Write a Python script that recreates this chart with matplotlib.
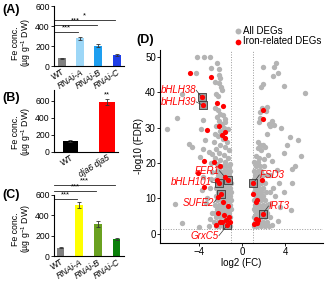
import matplotlib
matplotlib.use("Agg")
import matplotlib.pyplot as plt

plt.rcParams['font.family'] = ['Liberation Sans', 'DejaVu Sans']
plt.rcParams['mathtext.fontset'] = 'custom'
plt.rcParams['mathtext.rm'] = 'Liberation Sans'
plt.rcParams['mathtext.it'] = 'Liberation Sans:italic'
plt.rcParams['axes.linewidth'] = 0.8

# ---------------- data ----------------
a_labels = ['WT', 'RNAi-A', 'RNAi-B', 'RNAi-C']
a_values = [80, 280, 205, 110]
a_err = [5, 15, 15, 8]
a_colors = ['#808080', '#9dd7f7', '#1e9ff0', '#1f3fe8']
a_sig = [(1, 340, '***'), (2, 410, '***'), (3, 460, '*')]

b_labels = ['WT', 'dja6 dja5']
b_values = [125, 580]
b_err = [8, 35]
b_colors = ['#000000', '#ff0000']

c_labels = ['WT', 'RNAi-A', 'RNAi-B', 'RNAi-C']
c_values = [80, 500, 315, 165]
c_err = [5, 30, 25, 8]
c_colors = ['#808080', '#ffff00', '#6aa120', '#0a800a']
c_sig = [(1, 557, '***'), (2, 642, '***'), (3, 698, '***')]

gray_x = [-4.15, -3.56, -2.98, -2.32, -2.85, -2.15, -4.24, -2.1, -2.0, -2.5, -2.1, -1.95, -1.9, -2.4, -2.25,
          -5.55, -2.55, -2.2, -2.05, -1.8, -2.3, -1.6, -2.1, -3.63, -6.05, -1.9, -2.4, -1.55, -1.7, -3.78,
          -6.98, -2.0, -2.5, -1.3, -2.2, -1.8, -3.44, -4.93, -4.68, -2.6, -1.4, -2.0, -1.6, -3.6, -2.4,
          -1.2, -3.07, -2.8, -2.1, -1.7, -3.85, -2.5, -1.3, -2.0, -1.6, -2.9, -2.3, -1.15, -2.82, -3.6,
          -3.75, -3.35, -2.82, -6.2, -5.58, -4.0, -3.1, -3.0, -3.2, -2.9, -3.0,
          -2.45, -2.1, -1.75, -1.45, -1.1,
          -2.6, -2.25, -1.9, -1.6, -1.25,
          -2.4, -2.05, -1.7, -1.4, -1.08,
          -2.55, -2.2, -1.85, -1.55, -1.2,
          -2.35, -2.0, -1.65, -1.35, -1.05,
          -2.5, -2.15, -1.8, -1.5, -1.15,
          -2.3, -1.95, -1.6, -1.3, -1.05,
          -2.45, -2.05, -1.75, -1.45, -1.15,
          -2.25, -1.9, -1.6, -1.3, -1.05,
          -2.4, -2.05, -1.7, -1.4, -1.12,
          -2.3, -1.95, -1.6, -1.3, -1.05,
          -2.45, -2.1, -1.75, -1.45, -1.15,
          -2.2, -1.85, -1.55, -1.25,
          -2.35, -2.0, -1.65, -1.35, -1.08,
          -2.1, -1.8, -1.45, -1.2,
          1.9, 2.98, 3.1, 2.83, 3.35, 1.96, 1.78, 3.88, 5.86, 1.7, 1.85, 2.2, 2.3, 1.6, 1.65, 2.73, 2.5,
          2.6, 3.0, 3.6, 2.31, 4.4, 5.15, 4.2, 1.5, 1.65, 1.9, 2.1, 1.45, 1.75, 3.85, 5.5, 2.4, 1.3, 1.6,
          2.0, 2.8, 3.2, 4.6, 4.6, 3.9, 2.6, 3.07, 3.38, 2.5, 3.5, 4.5, 2.1, 3.3, 2.8, 2.6, 2.9, 4.9,
          1.1, 1.4, 1.75, 2.1, 2.5,
          1.2, 1.55, 1.9, 2.3,
          1.08, 1.4, 1.75, 2.1, 2.6,
          1.25, 1.6, 2.3,
          1.1, 1.45, 1.8, 2.2,
          1.2, 1.55, 1.9, 2.3,
          1.1, 1.8, 2.15,
          1.25, 1.6, 1.95,
          1.1, 1.45, 1.8, 2.2,
          1.2, 1.55, 1.9,
          1.45, 1.75, 2.1,
          1.1, 1.5,
          1.2, 1.55, 1.9, 2.3,
          1.1, 1.45, 1.8,
          1.3, 1.65, 2.05,
          1.15, 1.5]
gray_y = [49.9, 49.9, 49.9, 48.3, 47.0, 46.5, 45.5, 44.8, 44.0, 43.0, 42.6, 41.5, 40.6, 39.5, 39.0,
          39.4, 35.5, 35.0, 34.0, 33.5, 33.0, 32.5, 32.0, 32.1, 32.6, 31.0, 30.5, 31.5, 30.0, 29.5,
          29.5, 29.0, 28.2, 29.5, 27.5, 26.8, 26.4, 25.5, 24.5, 26.0, 26.0, 25.2, 24.6, 24.0, 24.0,
          23.8, 23.1, 22.6, 22.8, 22.2, 21.7, 21.4, 21.5, 20.8, 20.2, 20.0, 19.6, 19.8, 17.5, 16.0,
          12.3, 8.7, 5.7, 8.5, 3.0, 1.9, 2.1, 13.0, 10.2, 15.5, 4.0,
          2.2, 2.2, 2.2, 2.2, 2.2,
          3.4, 3.4, 3.4, 3.4, 3.4,
          4.6, 4.6, 4.6, 4.6, 4.6,
          5.8, 5.8, 5.8, 5.8, 5.8,
          7.0, 7.0, 7.0, 7.0, 7.0,
          8.2, 8.2, 8.2, 8.2, 8.2,
          9.4, 9.4, 9.4, 9.4, 9.4,
          10.6, 10.6, 10.6, 10.6, 10.6,
          11.8, 11.8, 11.8, 11.8, 11.8,
          13.0, 13.0, 13.0, 13.0, 13.0,
          14.2, 14.2, 14.2, 14.2, 14.2,
          15.4, 15.4, 15.4, 15.4, 15.4,
          16.6, 16.6, 16.6, 16.6,
          17.8, 17.8, 17.8, 17.8, 17.8,
          19.0, 19.0, 19.0, 19.0,
          47.2, 47.3, 48.3, 44.6, 45.5, 42.4, 41.5, 41.8, 39.8, 34.5, 35.7, 34.8, 35.8, 31.7, 32.8, 32.0, 31.0,
          30.5, 30.8, 29.9, 28.2, 27.4, 26.6, 25.0, 26.0, 25.2, 25.0, 24.6, 24.2, 23.8, 22.8, 21.9, 22.3, 22.0, 21.4,
          21.0, 20.6, 17.9, 18.4, 14.2, 11.8, 11.8, 10.6, 14.2, 8.5, 7.5, 6.6, 6.6, 3.5, 2.5, 16.5, 13.0, 19.0,
          2.2, 2.2, 2.2, 2.2, 2.2,
          3.4, 3.4, 3.4, 3.4,
          4.6, 4.6, 4.6, 4.6, 4.6,
          5.8, 5.8, 5.8,
          7.0, 7.0, 7.0, 7.0,
          8.2, 8.2, 8.2, 8.2,
          9.4, 9.4, 9.4,
          10.6, 10.6, 10.6,
          11.8, 11.8, 11.8, 11.8,
          13.0, 13.0, 13.0,
          14.2, 14.2, 14.2,
          15.4, 15.4,
          16.6, 16.6, 16.6, 16.6,
          17.8, 17.8, 17.8,
          19.0, 19.0, 19.0,
          20.2, 20.2]

red_x = [-4.8, -2.9, -3.75, -3.6, -2.36, -1.74, -3.2, -2.1, -1.55, -1.86, -1.55, 1.9, 1.9,
         -3.5, -4.06, -2.57, -2.05, -3.5, -2.36, -1.55, -1.33, -2.14, -1.95, -2.26, -1.74, -1.33,
         -2.2, -1.67, -1.2, -1.1, -1.83, -1.49, -2.45, -1.36, -2.05,
         1.05, 1.83, 1.05, 1.43, 1.27, 1.9, 1.3, 1.52, 1.15, 1.43]
red_y = [45.6, 44.3, 38.7, 36.3, 37.0, 36.1, 29.4, 30.4, 28.8, 27.8, 27.1, 35.1, 32.5,
         20.6, 17.2, 20.3, 19.1, 13.2, 15.3, 16.0, 15.1, 14.2, 11.3, 10.4, 9.0, 7.8,
         5.8, 5.2, 4.7, 3.3, 3.3, 3.8, 2.5, 2.4, 3.3,
         14.3, 15.3, 11.1, 9.4, 8.8, 5.5, 4.0, 3.8, 2.8, 3.1]

gene_names = ['bHLH38', 'bHLH39', 'FER1', 'bHLH101', 'SUFE2', 'GrxC5', 'FSD3', 'IRT3']
gene_x = [-3.75, -3.6, -1.33, -2.14, -1.95, -1.36, 1.05, 1.9]
gene_y = [38.7, 36.3, 15.1, 14.2, 11.3, 2.4, 14.3, 5.5]
label_x = [-4.25, -4.25, -2.1, -2.85, -2.63, -2.14, 1.6, 2.45]
label_y = [40.6, 37.3, 17.8, 14.6, 8.7, -0.6, 16.6, 7.8]
label_ha = ['right', 'right', 'right', 'right', 'right', 'right', 'left', 'left']

# ---------------- figure ----------------
W, H = 326, 281
fig = plt.figure(figsize=(W / 100, H / 100), dpi=100)


def px_axes(left, top, right, bottom):
    return fig.add_axes([left / W, 1 - bottom / H, (right - left) / W, (bottom - top) / H])


ylab = 'Fe conc.\n(µg g$^{-1}$ DW)'
tfs = 6.2


def bar_panel(ax, labels, values, errs, colors, ylim, xlim, label_center_px, sig=None):
    x = list(range(len(labels)))
    ax.bar(x, values, width=0.42, color=colors, yerr=errs,
           error_kw=dict(ecolor='#333333', elinewidth=0.6, capsize=1.2, capthick=0.6))
    ax.set_ylim(*ylim)
    ax.set_xlim(*xlim)
    ax.set_yticks([0, 200, 400, 600])
    ax.tick_params(axis='y', labelsize=tfs, length=2, width=0.6, pad=1)
    ax.tick_params(axis='x', length=0, labelsize=tfs, pad=1)
    ax.set_xticks(x)
    ax.set_xticklabels(labels, rotation=32, ha='right', rotation_mode='anchor')
    for t in ax.get_xticklabels():
        if t.get_text() != 'WT':
            t.set_fontstyle('italic')
    for s in ['top', 'right']:
        ax.spines[s].set_visible(False)
    fig.text(22 / W, 1 - label_center_px / H, ylab, rotation=90, ha='center', va='center',
             fontsize=6.3, linespacing=1.0, multialignment='center')
    if sig:
        for (end, yv, star) in sig:
            ax.plot([xlim[0], end - 0.1], [yv, yv], color='#222222', lw=0.6, clip_on=False)
            ax.text((xlim[0] + end - 0.1) / 2, yv + 5, star, ha='center', va='bottom',
                    fontsize=5.5, clip_on=False)


axA = px_axes(54, 6, 124, 66)
bar_panel(axA, a_labels, a_values, a_err, a_colors, (0, 600), (-0.42, 3.4), 43, a_sig)

axB = px_axes(54, 90, 118, 151.7)
bar_panel(axB, b_labels, b_values, b_err, b_colors, (0, 726), (-0.45, 1.3), 132)
axB.text(1, b_values[1] + b_err[1] + 10, '**', ha='center', va='bottom', fontsize=5.5)

axC = px_axes(54, 195, 124, 256)
bar_panel(axC, c_labels, c_values, c_err, c_colors, (0, 600), (-0.35, 3.4), 229, c_sig)

# ---------------- volcano ----------------
axD = px_axes(160, 50, 323, 242.7)
axD.set_xlim(-7.6, 7.5)
axD.set_ylim(-2.6, 52)
axD.axvline(-1, color='#999999', lw=0.7, ls=':', zorder=1)
axD.axvline(1, color='#999999', lw=0.7, ls=':', zorder=1)
axD.axhline(1.3, color='#999999', lw=0.7, ls=':', zorder=1)
axD.scatter(gray_x, gray_y, s=15, color='#b4b4b4', linewidths=0, zorder=2, label='All DEGs')
axD.scatter(gene_x, gene_y, s=26, marker='s', facecolor='#9a9a9a', edgecolor='#3a3a3a',
            linewidths=0.6, zorder=3)
axD.scatter(red_x, red_y, s=14, color='#ff0000', linewidths=0, zorder=4, label='Iron-related DEGs')
for name, gx, gy, lx, ly, ha in zip(gene_names, gene_x, gene_y, label_x, label_y, label_ha):
    axD.plot([lx, gx], [ly, gy], color='#333333', lw=0.5, zorder=3)
    axD.text(lx, ly, name, color='#ff0000', fontstyle='italic', fontsize=7,
             ha=ha, va='center', zorder=5)
axD.set_xticks([-4, 0, 4])
axD.set_yticks([0, 10, 20, 30, 40, 50])
axD.tick_params(labelsize=7, length=2, width=0.6, pad=1)
for s in ['top', 'right']:
    axD.spines[s].set_visible(False)
axD.set_xlabel('log2 (FC)', fontsize=7, labelpad=1)
axD.set_ylabel('-log10 (FDR)', fontsize=7, labelpad=1)
fig.legend(loc='upper left', bbox_to_anchor=(233 / W, 1 - 26 / H), frameon=False,
           fontsize=7, handletextpad=0.0, borderpad=0, labelspacing=0.05,
           handlelength=1.0, borderaxespad=0, markerscale=1.1)

# panel labels
for lab, xx, yy in [('(A)', 2, 10), ('(B)', 2, 98), ('(C)', 2, 195), ('(D)', 136, 40)]:
    fig.text(xx / W, 1 - yy / H, lab, fontsize=9, fontweight='bold', ha='left', va='center')

fig.savefig('out.png', dpi=100)
